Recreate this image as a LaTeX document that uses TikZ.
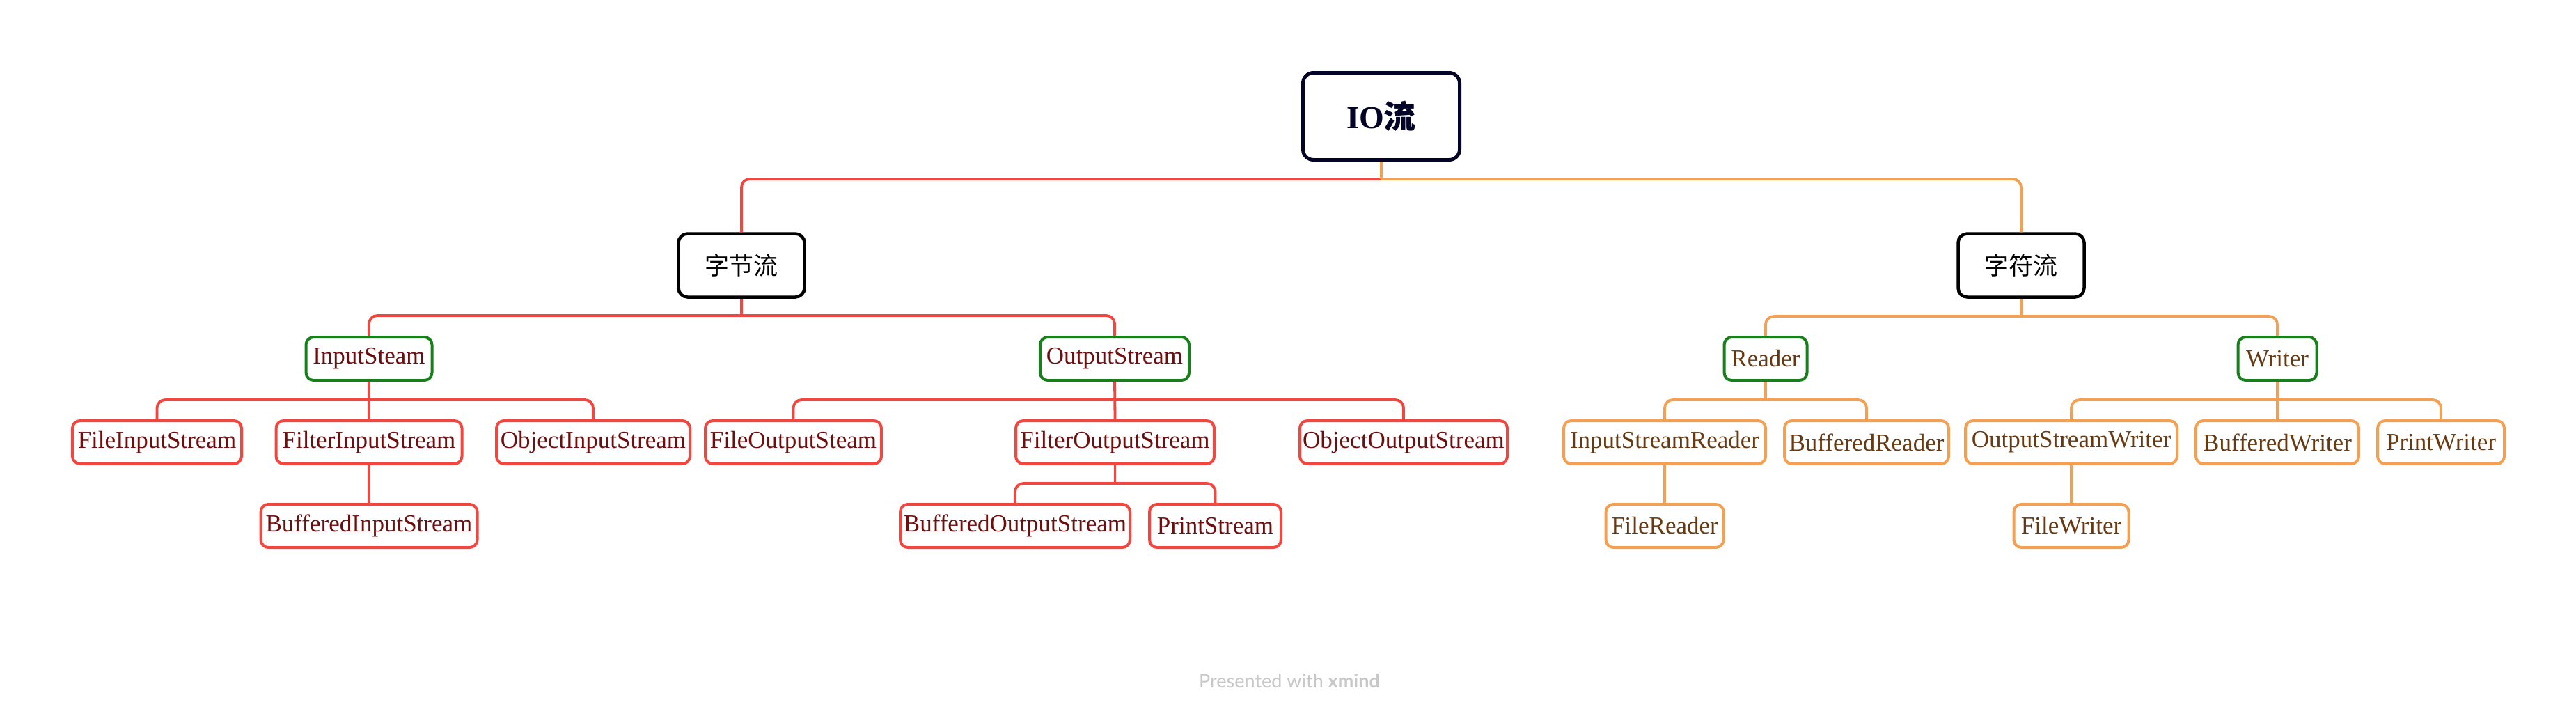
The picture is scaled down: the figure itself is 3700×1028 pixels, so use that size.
\documentclass[tikz,border=0pt]{standalone}
\usepackage{fontspec}
\setmainfont{Liberation Serif}
\newfontfamily\cjk{Noto Sans CJK SC}
\newfontfamily\footfont{Lato}
\definecolor{cred}{RGB}{244,70,62}
\definecolor{corange}{RGB}{245,160,80}
\definecolor{cgreen}{RGB}{22,128,26}
\definecolor{cnavy}{RGB}{4,4,40}
\definecolor{textL}{RGB}{110,14,14}
\definecolor{textR}{RGB}{104,58,18}
\definecolor{cfoot}{RGB}{200,200,200}
\tikzset{
  box/.style={draw, rounded corners=11pt, line width=4pt, fill=white, minimum height=62pt, inner sep=0pt, font=\fontsize{35}{40}\selectfont},
  lbox/.style={box, draw=cred, text=textL},
  rbox/.style={box, draw=corange, text=textR},
  glbox/.style={box, draw=cgreen, text=textL},
  grbox/.style={box, draw=cgreen, text=textR},
  catbox/.style={draw=black, rounded corners=13pt, line width=4.5pt, fill=white, minimum width=181pt, minimum height=91pt, inner sep=0pt, font=\cjk\fontsize{35}{40}\selectfont},
  rootbox/.style={draw=cnavy, text=cnavy, rounded corners=15pt, line width=5pt, fill=white, minimum width=225pt, minimum height=125pt, inner sep=0pt},
  lnR/.style={draw=cred, line width=3.8pt, rounded corners=12pt},
  lnO/.style={draw=corange, line width=3.8pt, rounded corners=12pt},
}
\begin{document}
\begin{tikzpicture}[x=1pt,y=-1pt]
\useasboundingbox[fill=white] (0,0) rectangle (3700,1028);
% root and categories
\node[rootbox] (io) at (1984,167) {\fontsize{46}{52}\selectfont\bfseries IO{\cjk\bfseries 流}};
\node[catbox] (byte) at (1065,381) {字节流};
\node[catbox] (char) at (2903,381) {字符流};
% level 2
\node[glbox, minimum width=181pt] (is) at (530,515) {InputSteam};
\node[glbox, minimum width=214pt] (os) at (1601,515) {OutputStream};
\node[grbox, minimum width=119pt] (rd) at (2536,515) {Reader};
\node[grbox, minimum width=113pt] (wr) at (3271,515) {Writer};
% level 3 left
\node[lbox, minimum width=243pt] (fis) at (225.5,635) {FileInputStream};
\node[lbox, minimum width=267pt] (flis) at (530,635) {FilterInputStream};
\node[lbox, minimum width=278pt] (ois) at (852,635) {ObjectInputStream};
\node[lbox, minimum width=253pt] (fos) at (1139.5,635) {FileOutputSteam};
\node[lbox, minimum width=285pt] (flos) at (1601.5,635) {FilterOutputStream};
\node[lbox, minimum width=298pt] (oos) at (2016,635) {ObjectOutputStream};
% level 3 right
\node[rbox, minimum width=290pt] (isr) at (2391,635) {InputStreamReader};
\node[rbox, minimum width=236pt] (br) at (2681,635) {BufferedReader};
\node[rbox, minimum width=304pt] (osw) at (2975,635) {OutputStreamWriter};
\node[rbox, minimum width=234pt] (bw) at (3271,635) {BufferedWriter};
\node[rbox, minimum width=182pt] (pw) at (3506,635) {PrintWriter};
% level 4
\node[lbox, minimum width=311pt] (bis) at (530,755) {BufferedInputStream};
\node[lbox, minimum width=330pt] (bos) at (1458,755) {BufferedOutputStream};
\node[lbox, minimum width=189pt] (ps) at (1745.5,755) {PrintStream};
\node[rbox, minimum width=169pt] (fr) at (2391,755) {FileReader};
\node[rbox, minimum width=165pt] (fw) at (2975,755) {FileWriter};
% junction coordinates
\coordinate (jio) at (1984,257);
\coordinate (jbyte) at (1065,453);
\coordinate (jchar) at (2903,454);
\coordinate (jis) at (530,574);
\coordinate (jos) at (1601,574);
\coordinate (jrd) at (2536,574);
\coordinate (jwr) at (3271,574);
\coordinate (jflos) at (1601.5,694);
% connectors: root
\draw[lnR] (jio) -| (byte.north);
\draw[lnO] (jio) -| (char.north);
\draw[lnO] (io.south) -- (jio);
% byte stream
\draw[lnR] (byte.south) -- (jbyte);
\draw[lnR] (jbyte) -| (is.north);
\draw[lnR] (jbyte) -| (os.north);
\draw[lnR] (is.south) -- (flis.north);
\draw[lnR] (jis) -| (fis.north);
\draw[lnR] (jis) -| (ois.north);
\draw[lnR] (flis.south) -- (bis.north);
\draw[lnR] (os.south) -- (flos.north);
\draw[lnR] (jos) -| (fos.north);
\draw[lnR] (jos) -| (oos.north);
\draw[lnR] (flos.south) -- (jflos);
\draw[lnR] (jflos) -| (bos.north);
\draw[lnR] (jflos) -| (ps.north);
% char stream
\draw[lnO] (char.south) -- (jchar);
\draw[lnO] (jchar) -| (rd.north);
\draw[lnO] (jchar) -| (wr.north);
\draw[lnO] (rd.south) -- (jrd);
\draw[lnO] (jrd) -| (isr.north);
\draw[lnO] (jrd) -| (br.north);
\draw[lnO] (isr.south) -- (fr.north);
\draw[lnO] (wr.south) -- (bw.north);
\draw[lnO] (jwr) -| (osw.north);
\draw[lnO] (jwr) -| (pw.north);
\draw[lnO] (osw.south) -- (fw.north);
% footer
\node[anchor=base, text=cfoot, font=\footfont\fontsize{27}{30}\selectfont, inner sep=0pt] (foot) at (1852,987) {Presented with \textbf{xmind}};
\end{tikzpicture}
\end{document}
